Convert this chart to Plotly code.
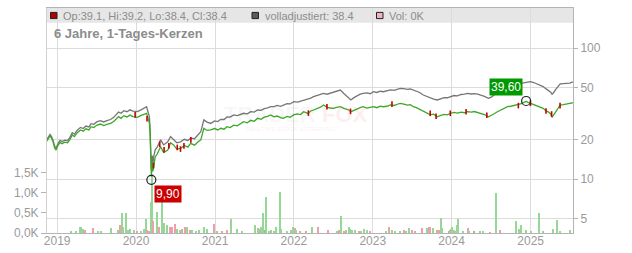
import math
import plotly.graph_objects as go

# ---------------- data ----------------
price_dates = ["2018-11-15","2018-11-22","2018-11-29","2018-12-06","2018-12-13","2018-12-20","2018-12-27",
"2019-01-04","2019-01-14","2019-01-24","2019-02-05","2019-02-18","2019-03-01","2019-03-12","2019-03-22",
"2019-04-03","2019-04-19","2019-05-02","2019-05-14","2019-05-28","2019-06-07","2019-06-20","2019-07-03",
"2019-07-20","2019-08-05","2019-08-19","2019-09-05","2019-09-20","2019-10-02","2019-10-12","2019-10-24",
"2019-11-06","2019-11-20","2019-12-04","2019-12-18","2020-01-07","2020-01-22","2020-02-05","2020-02-19",
"2020-02-26","2020-03-03","2020-03-06","2020-03-09","2020-03-11","2020-03-12","2020-03-16","2020-03-19",
"2020-03-23","2020-03-30","2020-04-08","2020-04-24","2020-05-08","2020-05-27","2020-06-09","2020-06-23",
"2020-07-08","2020-07-25","2020-08-12","2020-08-28","2020-09-10","2020-09-28","2020-10-12","2020-10-27",
"2020-11-10","2020-11-25","2020-12-12","2020-12-30","2021-01-14","2021-01-27","2021-02-12","2021-02-25",
"2021-03-12","2021-03-28","2021-04-14","2021-04-28","2021-05-13","2021-05-30","2021-06-15","2021-07-01",
"2021-07-17","2021-08-02","2021-08-17","2021-09-01","2021-09-15","2021-10-01","2021-10-15","2021-11-01",
"2021-11-14","2021-11-30","2021-12-15","2021-12-31","2022-01-18","2022-02-01","2022-02-15","2022-03-07",
"2022-03-20","2022-04-02","2022-04-20","2022-05-04","2022-05-18","2022-06-03","2022-06-18","2022-07-03",
"2022-07-18","2022-08-04","2022-08-20","2022-09-01","2022-09-12","2022-09-22","2022-10-06","2022-10-20",
"2022-11-04","2022-11-18","2022-12-05","2022-12-20","2023-01-04","2023-01-20","2023-02-05","2023-02-19",
"2023-03-08","2023-03-24","2023-04-10","2023-04-25","2023-05-08","2023-05-25","2023-06-10","2023-06-24",
"2023-07-08","2023-07-22","2023-08-06","2023-08-23","2023-09-08","2023-09-25","2023-10-10","2023-10-27",
"2023-11-12","2023-11-28","2023-12-12","2023-12-26","2024-01-12","2024-01-28","2024-02-14","2024-03-01",
"2024-03-14","2024-04-01","2024-04-15","2024-05-01","2024-05-14","2024-06-01","2024-06-20","2024-07-05",
"2024-07-18","2024-07-31","2024-08-15","2024-09-01","2024-09-16","2024-10-01","2024-10-16","2024-11-01",
"2024-11-15","2024-11-29","2024-12-11","2024-12-20","2024-12-31","2025-01-15","2025-01-30","2025-02-15",
"2025-02-28","2025-03-12","2025-03-25","2025-04-04","2025-04-10","2025-04-16","2025-04-28","2025-05-08",
"2025-05-18","2025-06-01","2025-06-15","2025-07-01","2025-07-15"]

close = [19.6,20.3,21.4,20.6,19.3,17.4,16.7,
18.0,19.1,18.7,19.2,19.0,20.1,21.8,21.2,
22.6,23.8,23.3,24.3,23.8,25.2,24.8,25.8,
26.4,25.7,26.2,26.7,27.6,28.9,30.1,29.2,
30.6,29.9,30.9,30.1,29.7,30.6,31.2,31.9,
29.2,26.9,22.5,16.5,12.0,10.5,13.5,11.5,
12.5,14.8,15.6,17.7,16.0,16.7,19.0,18.3,
17.0,17.2,18.1,17.6,18.8,18.2,19.2,20.0,
24.5,23.6,23.8,24.4,23.8,24.5,24.1,25.2,
24.8,25.9,25.6,26.7,27.5,27.0,28.2,27.7,
29.2,28.7,29.8,30.2,31.0,30.0,30.4,29.6,
29.2,30.2,29.7,31.0,31.6,31.2,32.8,31.8,
33.2,33.8,34.6,35.5,36.9,35.6,35.0,34.8,
35.4,35.8,34.8,34.2,33.8,32.8,33.6,34.6,
35.2,35.8,34.9,35.4,35.8,35.2,36.2,35.8,
36.1,37.0,36.6,37.4,38.0,37.5,36.8,37.1,
35.8,35.2,34.2,32.8,32.0,31.0,31.4,30.0,
30.7,31.3,31.0,31.9,32.4,32.0,32.6,32.2,
32.8,32.6,32.9,32.3,31.9,31.2,30.0,30.8,
31.8,32.8,33.8,34.9,35.8,36.1,36.6,36.9,
37.6,38.5,39.3,38.6,38.0,37.2,36.6,35.8,
34.8,33.4,32.6,31.5,29.7,30.8,33.2,35.4,
36.9,37.2,37.8,38.0,38.4]

adjusted = [20.2,20.9,22.0,21.2,19.9,18.0,17.3,
18.6,19.8,19.4,19.9,19.7,20.9,22.7,22.1,
23.6,24.9,24.4,25.5,25.1,26.6,26.3,27.4,
28.0,27.4,28.0,28.6,29.7,31.3,32.6,31.9,
33.4,32.8,33.9,33.1,32.8,33.7,34.5,35.8,
32.5,30.0,25.0,18.5,13.6,11.9,15.2,13.0,
14.9,16.8,17.6,20.0,18.3,19.3,21.2,20.2,
19.0,19.3,20.2,19.8,20.6,20.4,21.6,23.1,
28.4,27.3,26.7,27.9,27.6,28.7,28.6,29.9,
29.8,31.0,30.6,31.3,31.9,31.6,32.8,32.6,
33.8,33.6,34.6,35.1,35.8,35.9,36.6,36.0,
36.9,37.8,37.6,39.1,38.8,39.4,40.3,40.8,
41.6,42.7,43.6,44.3,45.3,44.6,45.3,46.6,
46.9,48.0,45.2,43.2,41.5,40.3,42.0,43.4,
44.6,45.3,45.6,45.0,46.6,46.0,47.0,46.6,
47.2,48.2,47.8,48.9,49.5,49.2,48.6,48.9,
48.0,47.0,46.0,44.0,42.8,41.6,41.0,40.3,
41.2,42.0,41.9,42.7,43.6,43.3,44.4,44.6,
45.3,44.8,45.1,44.6,44.0,43.0,41.5,42.6,
44.3,46.0,47.8,49.6,51.0,52.0,52.8,53.5,
54.0,54.6,55.0,55.3,55.6,54.8,53.6,52.5,
51.0,49.2,47.8,46.2,44.6,45.6,48.8,51.6,
53.5,53.8,54.0,54.2,55.5]

# down-candle days (red marks)
red_dates = ["2019-12-28","2020-02-21","2020-03-22","2020-04-20","2020-05-10","2020-06-01","2020-07-10",
"2020-07-25","2020-08-10","2020-09-11","2022-03-09","2022-06-03","2022-09-20","2023-03-31","2023-09-24",
"2023-10-21","2023-12-26","2024-03-08","2024-06-12","2024-11-05","2024-12-31","2025-03-13","2025-04-08",
"2025-05-17"]
red_values = [31.0,29.0,12.7,18.5,16.8,18.0,17.5,17.0,18.0,20.0,32.0,35.8,33.0,37.5,31.9,30.3,31.9,32.8,
30.8,36.5,38.0,33.2,31.5,36.5]

vol_dates = ["2019-03-05","2019-03-28","2019-04-17","2019-04-23","2019-05-03","2019-05-09","2019-06-14",
"2019-07-08","2019-07-22","2019-09-06","2019-10-10","2019-10-18","2019-10-29","2019-11-04","2019-11-15",
"2019-11-25","2019-12-04","2019-12-23","2020-01-08","2020-01-23","2020-02-07","2020-02-18","2020-02-23",
"2020-03-01","2020-03-09","2020-03-11","2020-03-13","2020-03-16","2020-03-20","2020-04-09","2020-04-17",
"2020-05-02","2020-05-12","2020-05-25","2020-06-06","2020-06-17","2020-06-28","2020-07-10","2020-07-22",
"2020-08-02","2020-08-14","2020-08-25","2020-09-06","2020-09-17","2020-10-03","2020-10-18","2020-11-10",
"2020-11-26","2020-12-27","2021-01-11","2021-02-03","2021-02-26","2021-03-14","2021-04-14","2021-05-07",
"2021-07-03","2021-07-19","2021-07-28","2021-08-03","2021-08-13","2021-08-19","2021-08-27","2021-09-08",
"2021-09-19","2021-10-01","2021-10-10","2021-10-28","2021-11-04","2021-11-28","2021-12-20","2021-12-29",
"2022-01-04","2022-01-13","2022-01-28","2022-02-27","2022-03-27","2022-04-21","2022-06-07","2022-07-20",
"2022-07-31","2022-08-08","2022-08-20","2022-08-31","2022-09-12","2022-09-20","2022-09-28","2022-10-13",
"2022-10-28","2022-11-08","2022-11-23","2022-12-06","2022-12-21","2023-03-05","2023-03-19","2023-03-31",
"2023-04-16","2023-05-09","2023-05-24","2023-06-04","2023-06-19","2023-07-02","2023-07-17","2023-08-17",
"2023-09-09","2023-09-17","2023-09-24","2023-10-07","2023-10-25","2023-11-05","2023-11-13","2023-11-18",
"2023-12-18","2023-12-26","2023-12-31","2024-01-04","2024-01-10","2024-01-18","2024-01-26","2024-02-02",
"2024-02-23","2024-03-15","2024-03-23","2024-04-12","2024-05-13","2024-05-24","2024-06-29","2024-07-23",
"2024-08-14","2024-10-27","2024-11-07","2024-11-18","2024-12-11","2025-01-03","2025-02-11","2025-02-25",
"2025-04-16","2025-05-01","2025-05-17","2025-07-02"]
vol_values = [0.04,0.04,0.16,0.15,0.10,0.08,0.13,
0.05,0.05,0.13,0.08,0.19,0.49,0.15,0.49,
0.08,0.10,0.08,0.05,0.03,0.10,0.35,0.08,
0.05,0.23,0.77,1.45,1.05,0.30,0.52,0.15,
0.89,0.25,0.19,0.15,0.16,0.23,0.11,0.08,
0.11,0.15,0.16,0.08,0.07,0.05,0.07,0.16,
0.11,0.23,0.05,0.05,0.07,0.35,0.11,0.05,
0.21,0.13,0.11,0.15,0.49,0.08,0.90,0.05,
0.07,0.05,0.16,1.01,0.11,0.05,0.08,0.16,
0.13,0.07,0.05,0.04,0.15,0.16,0.07,0.05,
0.07,0.41,0.03,0.08,0.15,0.11,0.07,0.08,
0.05,0.05,0.11,0.07,0.03,0.05,0.16,0.08,
0.05,0.05,0.08,0.03,0.13,0.08,0.03,0.13,
0.13,0.16,0.15,0.13,0.07,0.08,0.38,0.13,
0.03,0.08,0.11,0.15,0.08,0.05,0.19,0.35,
0.03,0.13,0.05,0.03,0.05,0.05,0.02,1.00,
0.07,0.29,0.11,0.21,0.07,0.04,0.49,0.05,
0.11,0.33,0.03,0.08]
vol_dir = list("uuuuuddu" "uuudu" "uuuuud" "uuudduuuud" "uduuuddduu" "dduduuuuud" "udduuuuudu" "unuuuu"
               "uuuuuud" "udduddudu" "duuuuudu" "uudu" "duuudu" "udddu" "ddu" "dduunuduu" "uuuud" "unuudud" "uuu")

low_date, low_value = "2020-03-12", 9.90
high_date, high_value = "2024-12-11", 39.60

x_range = ["2018-11-15", "2025-07-16"]
price_ticks = [5, 10, 20, 50, 100]
vol_ticks = [0, 0.5, 1.0, 1.5]
vol_tick_text = ["0,0K", "0,5K", "1,0K", "1,5K"]

# ---------------- figure ----------------
FONT = "Liberation Sans, Arial, sans-serif"
GREY_TXT = "#9a9a9a"
dir_color = {"u": "rgb(150,214,150)", "d": "rgb(236,160,170)", "n": "rgb(172,172,172)"}
vd = (vol_dir + ["u"] * len(vol_values))[:len(vol_values)]

fig = go.Figure()
fig.add_trace(go.Bar(x=vol_dates, y=vol_values, yaxis="y",
                     marker=dict(color=[dir_color[c] for c in vd], line=dict(width=0)),
                     width=5 * 86400000, showlegend=False))
fig.add_trace(go.Scatter(x=price_dates, y=adjusted, yaxis="y2", mode="lines",
                         line=dict(color="rgb(118,118,118)", width=1.3), showlegend=False))
fig.add_trace(go.Scatter(x=price_dates, y=close, yaxis="y2", mode="lines",
                         line=dict(color="rgb(60,168,40)", width=1.3), showlegend=False))
fig.add_trace(go.Scatter(x=red_dates, y=red_values, yaxis="y2", mode="markers",
                         marker=dict(symbol="line-ns", size=4, line=dict(color="rgb(200,0,0)", width=1.6)),
                         showlegend=False))
fig.add_trace(go.Scatter(x=[low_date, high_date], y=[low_value, high_value], yaxis="y2", mode="markers",
                         marker=dict(symbol="circle-open", size=9, color="#222", line=dict(width=1.2)),
                         showlegend=False))

lo_p, hi_p = math.log10(3.89), math.log10(203)

fig.update_layout(
    width=632, height=253,
    margin=dict(l=47, r=59, t=8, b=20, autoexpand=False),
    paper_bgcolor="white", plot_bgcolor="white",
    font=dict(family=FONT, size=12, color=GREY_TXT),
    bargap=0,
    xaxis=dict(type="date", range=x_range, dtick="M12", tick0="2019-01-01", tickformat="%Y",
               automargin=False,
               showgrid=True, gridcolor="#dcdcdc", gridwidth=1,
               showline=True, linecolor="#b4b4b4", linewidth=1, mirror=True,
               ticks="", ticklabelstandoff=-3,
               tickfont=dict(size=12, color=GREY_TXT)),
    yaxis=dict(range=[0, 5.56], tickvals=vol_ticks, ticktext=vol_tick_text, showgrid=False,
               automargin=False,
               zeroline=False, showline=True, linecolor="#d0d0d0", linewidth=1,
               ticks="outside", ticklen=5, tickcolor="#b4b4b4", tickfont=dict(size=12, color=GREY_TXT)),
    yaxis2=dict(type="log", range=[lo_p, hi_p], overlaying="y", side="right",
                automargin=False,
                tickvals=price_ticks, ticktext=[str(v) for v in price_ticks],
                showgrid=True, gridcolor="#dcdcdc", gridwidth=1, zeroline=False,
                showline=True, linecolor="#b4b4b4", linewidth=1,
                ticks="outside", ticklen=4, tickcolor="#b4b4b4", tickfont=dict(size=12, color=GREY_TXT)),
    hovermode=False,
)

PW, PH = 526.0, 225.0
def px(X): return (X - 47) / PW
def py(Y): return (233 - Y) / PH

shapes = [
    dict(type="rect", xref="paper", yref="paper", x0=0, x1=1, y0=py(22.7), y1=1,
         fillcolor="#e6e6e6", line=dict(width=0), layer="below"),
]
legend_items = [
    (50.5, "#b00000", "Op:39.1, Hi:39.2, Lo:38.4, Cl:38.4"),
    (252.0, "#5a5a5a", "volladjustiert: 38.4"),
    (376.5, "#f2b4bc", "Vol: 0K"),
]
annotations = []
for X, col, txt in legend_items:
    shapes.append(dict(type="rect", xref="paper", yref="paper", x0=px(X), x1=px(X + 6.5),
                       y0=py(18.6), y1=py(12.4), fillcolor=col, line=dict(color="#222", width=1),
                       layer="above"))
    annotations.append(dict(xref="paper", yref="paper", x=px(X + 10.5), y=py(15.6), xanchor="left",
                            yanchor="middle", text=txt, showarrow=False,
                            font=dict(size=11, color="#8c8c8c", family=FONT)))
annotations.append(dict(xref="paper", yref="paper", x=px(52), y=py(33), xanchor="left", yanchor="middle",
                        text="<b>6 Jahre, 1-Tages-Kerzen</b>", showarrow=False,
                        font=dict(size=13, color="#8c8c8c", family=FONT)))
# faint watermark (two separate words, side by side)
annotations.append(dict(xref="paper", yref="paper", x=px(318), y=py(115), xanchor="right", yanchor="middle",
                        text="<b>TRADER</b>", showarrow=False,
                        font=dict(size=22, color="rgba(0,0,0,0.05)", family=FONT)))
annotations.append(dict(xref="paper", yref="paper", x=px(320), y=py(115), xanchor="left", yanchor="middle",
                        text="<b>FOX</b>", showarrow=False,
                        font=dict(size=22, color="rgba(240,90,100,0.11)", family=FONT)))
annotations.append(dict(xref="paper", yref="paper", x=px(290), y=py(129), xanchor="center", yanchor="middle",
                        text="REALTIME STOCK SCREENING", showarrow=False,
                        font=dict(size=6, color="rgba(240,90,100,0.12)", family=FONT)))
# low / high labels
annotations.append(dict(x=low_date, y=math.log10(low_value), xref="x", yref="y2", text="9,90",
                        showarrow=False, xanchor="left", yanchor="top", xshift=3, yshift=-5,
                        bgcolor="#cc0000", borderpad=1, font=dict(size=12, color="white", family=FONT)))
annotations.append(dict(x=high_date, y=math.log10(high_value), xref="x", yref="y2", text="39,60",
                        showarrow=False, xanchor="right", yanchor="bottom", xshift=-3, yshift=5,
                        bgcolor="#009900", borderpad=1, font=dict(size=12, color="white", family=FONT)))

fig.update_layout(shapes=shapes, annotations=annotations)
fig.write_html("out.html")
